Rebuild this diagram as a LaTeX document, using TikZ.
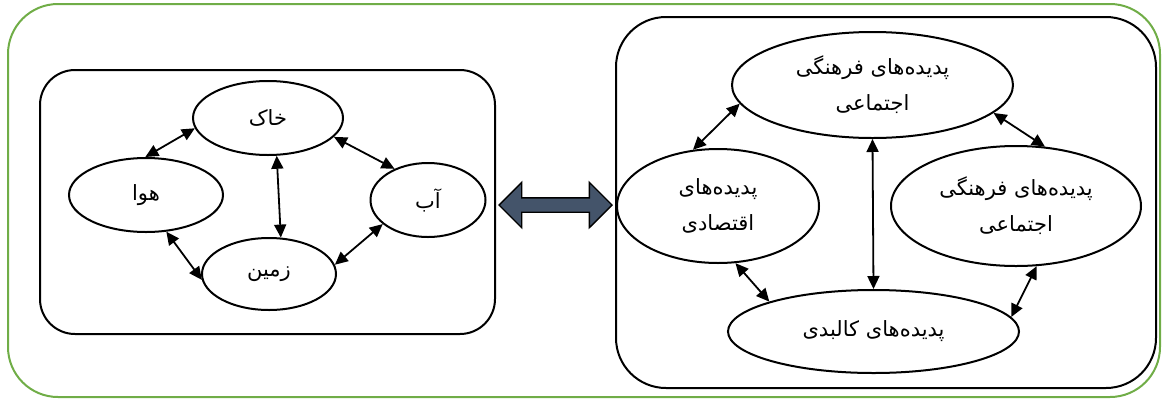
\documentclass[tikz,border=0pt]{standalone}
\usepackage{fontspec}
\usepackage{tikz}
\usetikzlibrary{arrows.meta}
\usetikzlibrary{shapes.geometric,shapes.arrows}
\TeXXeTstate=1
\newfontfamily\farsi[Script=Arabic]{DejaVu Sans}
\newcommand\ovalfont{\farsi\fontsize{21}{36}\selectfont\lineskiplimit -50pt\relax}
\definecolor{framegreen}{HTML}{70AD47}
\definecolor{slateblue}{HTML}{44546A}

\begin{document}
\begin{tikzpicture}[x=1pt, y=-1pt,
    oval/.style={draw, ellipse, line width=2pt, inner sep=0pt, align=center,
      font=\ovalfont},
    link/.style={{Triangle[length=13pt,width=12pt]}-{Triangle[length=13pt,width=12pt]},
      line width=1.8pt}]
        \useasboundingbox (0,0) rectangle (1163,400);

        % frames
        \draw[framegreen, line width=2pt, rounded corners=50pt] (8,4) rectangle (1160,397);
        \draw[line width=2pt, rounded corners=35pt] (40,70) rectangle (495,334);
        \draw[line width=2pt, rounded corners=50pt] (616,17) rectangle (1156,388);

        % left cycle
        \node[oval, minimum width=150pt, minimum height=74pt] (khak) at (268,118) {\beginR خاک\endR};
        \node[oval, minimum width=154pt, minimum height=74pt] (hava) at (146,195) {\beginR هوا\endR};
        \node[oval, minimum width=115pt, minimum height=74pt] (ab) at (428,200) {\beginR آب\endR};
        \node[oval, minimum width=134pt, minimum height=72pt] (zamin) at (269,274) {\beginR زمین\endR};

        \draw[link] (khak.188) -- (hava.91);
        \draw[link] (khak.283) -- (zamin.72);
        \draw[link] (khak.-16) -- (ab.137);
        \draw[link] (ab.208) -- (zamin.8);
        \draw[link] (hava.-61) -- (zamin.185);

        % the two sides
        \node[double arrow, draw, fill=slateblue, line width=1.4pt, inner sep=6.5pt,
          minimum height=113pt, double arrow head extend=15.5pt] (bridge) at (555.5,205) {};

        % right cycle
        \node[oval, minimum width=281pt, minimum height=106pt] (farhangi) at (872.5,85)
          {\beginR پدیده‌های فرهنگی\endR\\\beginR اجتماعی\endR};
        \node[oval, minimum width=202pt, minimum height=114pt] (eqtesadi) at (718,206)
          {\beginR پدیده‌های\endR\\\beginR اقتصادی\endR};
        \node[oval, minimum width=250pt, minimum height=120pt] (ejtemai) at (1016,206)
          {\beginR پدیده‌های فرهنگی\endR\\\beginR اجتماعی\endR};
        \node[oval, minimum width=291pt, minimum height=83pt] (kalbadi) at (873.5,331.5)
          {\beginR پدیده‌های کالبدی\endR};

        \draw[link] (farhangi.188) -- (eqtesadi.114);
        \draw[link] (farhangi.south) -- (kalbadi.north);
        \draw[link] (farhangi.-13) -- (ejtemai.64);
        \draw[link] (eqtesadi.-73) -- (kalbadi.164);
        \draw[link] (ejtemai.-71) -- (kalbadi.6);
      \end{tikzpicture}
\end{document}
